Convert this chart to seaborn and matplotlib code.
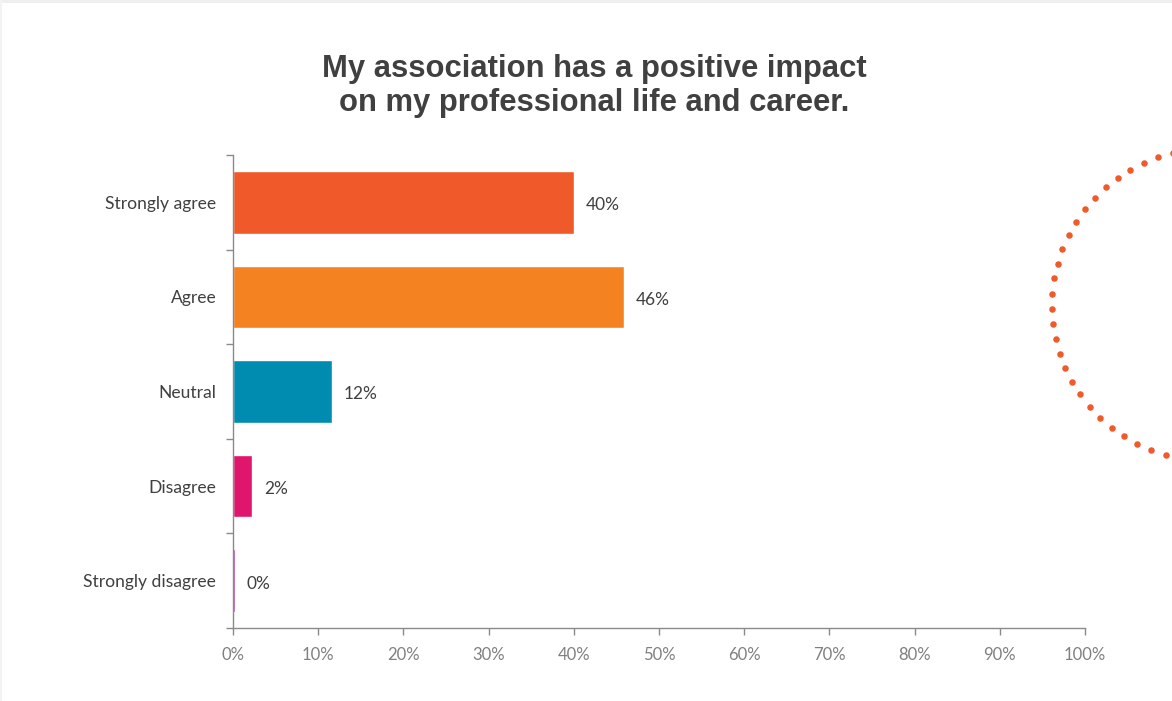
import numpy as np
import pandas as pd
import matplotlib
matplotlib.use("Agg")
import matplotlib.pyplot as plt
from matplotlib.patches import Rectangle
import seaborn as sns

# Survey responses (share of respondents, %)
categories = ["Strongly agree", "Agree", "Neutral", "Disagree", "Strongly disagree"]
shares = [40.0, 45.9, 11.6, 2.2, 0.2]
bar_colors = ["#F05A2B", "#F58220", "#008CB0", "#E0156C", "#B8179F"]
x_ticks = [0, 10, 20, 30, 40, 50, 60, 70, 80, 90, 100]
x_tick_labels = [f"{t}%" for t in x_ticks]
title = "My association has a positive impact\non my professional life and career."

sns.set_theme(style="white")
plt.rcParams["font.family"] = ["Lato", "DejaVu Sans"]

W, H = 1172, 701
fig = plt.figure(figsize=(W / 100, H / 100), dpi=100)
fig.patch.set_facecolor("white")

ax = fig.add_axes([233 / W, 1 - 628 / H, (1085 - 233) / W, (628 - 155) / H])
ax.patch.set_alpha(0)

df = pd.DataFrame({"category": categories, "share": shares})
sns.barplot(data=df, x="share", y="category", hue="category", order=categories,
            palette=dict(zip(categories, bar_colors)), legend=False,
            width=0.66, saturation=1, orient="h", ax=ax)

ax.set_xlim(0, 100)
ax.set_ylim(4.5, -0.5)
ax.set_xlabel("")
ax.set_ylabel("")

spine_col = "#8A8A8A"
for side in ("top", "right"):
    ax.spines[side].set_visible(False)
for side in ("left", "bottom"):
    ax.spines[side].set_color(spine_col)
    ax.spines[side].set_linewidth(1.0)

# x axis
ax.set_xticks(x_ticks)
ax.set_xticklabels(x_tick_labels, fontsize=12, color="#808080")
ax.tick_params(axis="x", which="major", direction="out", length=5, width=1,
               color=spine_col, pad=9, bottom=True)

# y axis: labels centred on bars, tick marks on category boundaries
ax.set_yticks(range(len(categories)))
ax.set_yticklabels(categories, fontsize=12.6, color="#404040")
ax.tick_params(axis="y", which="major", length=0, pad=12)
ax.set_yticks(np.arange(-0.5, len(categories), 1.0), minor=True)
ax.tick_params(axis="y", which="minor", direction="out", length=5, width=1,
               color=spine_col, left=True)
for lbl in ax.get_yticklabels():
    lbl.set_y(lbl.get_position()[1])

# value labels
for i, v in enumerate(shares):
    ax.text(v + 1.4, i + 0.03, f"{v:.0f}%", va="center", ha="left",
            fontsize=12.4, color="#404040")

# title
fig.text(594 / W, 1 - 86 / H, title, ha="center", va="center",
         fontsize=22.3, fontweight="bold", color="#404040",
         family=["Liberation Sans", "DejaVu Sans"], linespacing=1.2)

# decorative dotted arc at the right edge
cx, cy, r = 1208, 305, 156
ang = np.deg2rad(np.arange(103, 258, 5.6))
deco = fig.add_axes([0, 0, 1, 1], zorder=5)
deco.set_xlim(0, W)
deco.set_ylim(H, 0)
deco.axis("off")
deco.scatter(cx + r * np.cos(ang), cy - r * np.sin(ang), s=22,
             color="#F05A2B", linewidths=0, clip_on=False)

# faint frame along the top and left edges
deco.add_patch(Rectangle((0, 0), W, 3, color="#EFEFEF", lw=0))
deco.add_patch(Rectangle((0, 0), 2, H, color="#F3F3F3", lw=0))

fig.savefig("out.png", dpi=100, facecolor="white")
